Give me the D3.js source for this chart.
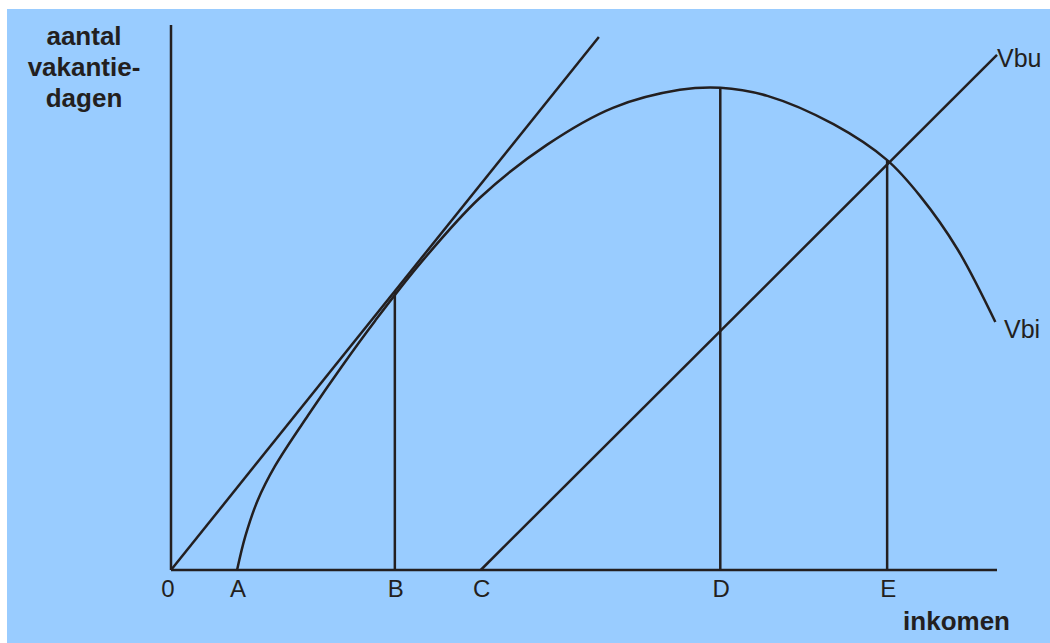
<!DOCTYPE html>
<html>
<head>
<meta charset="utf-8">
<script src="https://cdn.jsdelivr.net/npm/d3@7"></script>
<style>
  html, body { margin: 0; padding: 0; background: #fff; }
  svg { display: block; }
  text { font-family: "Liberation Sans", Arial, sans-serif; fill: #231f20; }
</style>
</head>
<body>
<svg id="chart" width="1050" height="643"></svg>
<script>
// Vakantiedagen vs inkomen: Vbi curve, Vbu line, tangent from origin.
var tickNames = ["0", "A", "B", "C", "D", "E"];
var tickPos = [0, 0.80, 2.71, 3.75, 6.65, 8.67];

// Vbi curve (starts at A)
var vbiX = [0.80, 0.90, 1.05, 1.26, 1.66, 2.07, 2.47, 3.02, 3.74, 4.55, 5.35, 6.16, 6.65, 7.22, 8.02, 8.67, 9.07, 9.52, 9.98];
var vbiY = [0.00, 0.62, 1.28, 1.91, 2.84, 3.74, 4.57, 5.63, 6.83, 7.80, 8.48, 8.81, 8.85, 8.70, 8.18, 7.52, 6.86, 5.89, 4.55];

// straight lines: [x0, y0, x1, y1]
var tangentLine = [0, 0, 5.18, 9.78];
var vbuLine = [3.75, 0, 10.0, 9.45];

// verticals at B, D, E up to the curve
var dropX = [2.71, 6.65, 8.67];
var dropY = [5.10, 8.85, 7.52];

var yTitle = ["aantal", "vakantie-", "dagen"];

(function () {
  "use strict";
  var svg = d3.select("#chart");
  var x = d3.scaleLinear().domain([0, 10]).range([171, 997]);
  var y = d3.scaleLinear().domain([0, 10]).range([570, 25]);
  var ink = "#231f20", lw = 2.5;

  svg.append("rect").attr("x", 7).attr("y", 9).attr("width", 1043).attr("height", 634).attr("fill", "#99ccff");

  var g = svg.append("g").attr("stroke", ink).attr("stroke-width", lw).attr("fill", "none");

  // axes
  g.append("line").attr("x1", x(0)).attr("x2", x(0)).attr("y1", y(10)).attr("y2", y(0));
  g.append("line").attr("x1", x(0)).attr("x2", x(10)).attr("y1", y(0)).attr("y2", y(0));

  // verticals
  dropX.forEach(function (d, i) {
    g.append("line").attr("x1", x(d)).attr("x2", x(d)).attr("y1", y(0)).attr("y2", y(dropY[i]));
  });

  // tangent and Vbu
  [tangentLine, vbuLine].forEach(function (l) {
    g.append("line").attr("x1", x(l[0])).attr("y1", y(l[1])).attr("x2", x(l[2])).attr("y2", y(l[3]));
  });

  // Vbi curve
  var pts = vbiX.map(function (d, i) { return [d, vbiY[i]]; });
  g.append("path").attr("d", d3.line().x(function (d) { return x(d[0]); }).y(function (d) { return y(d[1]); })
    .curve(d3.curveCatmullRom.alpha(0.5))(pts));

  // tick labels
  svg.selectAll("text.tk").data(tickNames).enter().append("text").attr("class", "tk")
    .attr("x", function (d, i) { return x(tickPos[i]) + (i === 0 ? -3 : 1); })
    .attr("y", 597).attr("text-anchor", "middle").attr("font-size", 24)
    .text(function (d) { return d; });

  svg.append("text").attr("x", 1010).attr("y", 630).attr("text-anchor", "end")
    .attr("font-size", 26).attr("font-weight", "bold").text("inkomen");

  svg.selectAll("text.yt").data(yTitle).enter().append("text").attr("class", "yt")
    .attr("x", 84).attr("y", function (d, i) { return 45 + i * 31; })
    .attr("text-anchor", "middle").attr("font-size", 26).attr("font-weight", "bold")
    .text(function (d) { return d; });

  svg.append("text").attr("x", 997).attr("y", 67).attr("font-size", 25).text("Vbu");
  svg.append("text").attr("x", 1004).attr("y", 338).attr("font-size", 25).text("Vbi");
})();
</script>
</body>
</html>
